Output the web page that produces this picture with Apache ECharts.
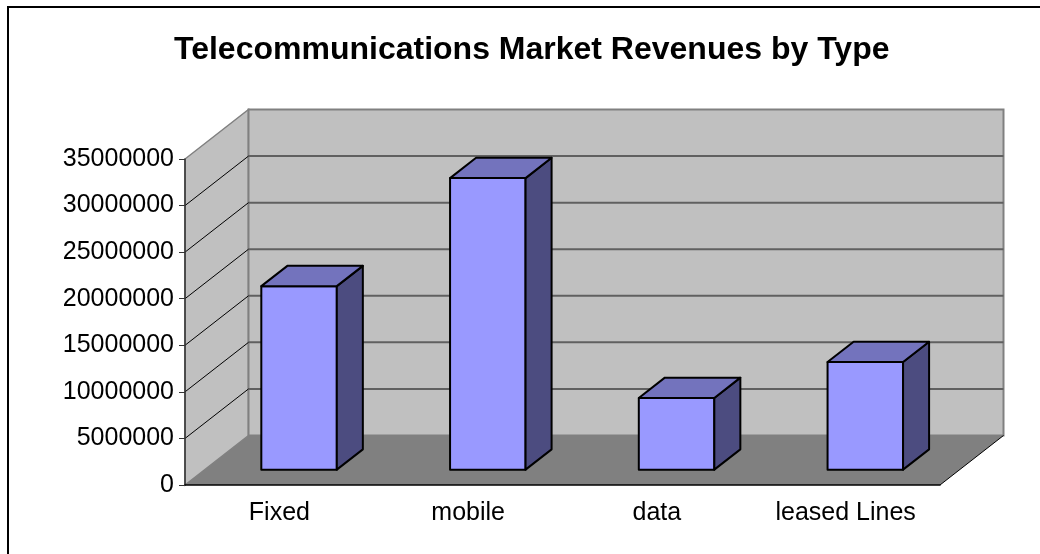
<!DOCTYPE html>
<html>
	<head>
		<meta charset="utf-8">
		<title>Telecommunications Market Revenues by Type</title>
		<script src="https://cdn.jsdelivr.net/npm/echarts@6/dist/echarts.min.js"></script>
		<style>
			html, body { margin: 0; padding: 0; background: #fff; }
			#main { width: 1040px; height: 554px; }
		</style>
	</head>
	<body>
		<div id="main"></div>
		<script>
			// chart data
			var categories = ['Fixed', 'mobile', 'data', 'leased Lines'];
			var revenues = [19700000, 31300000, 7700000, 11550000];
			var gridValues = [5000000, 10000000, 15000000, 20000000, 25000000, 30000000];

			// 3d look: depth of the plot box and where the bars sit inside it
			var DEPTH_X = 63.5;
			var DEPTH_Y = -49.5;
			var BAR_FRONT = 0.31;
			var BAR_BACK = 0.72;
			var BAR_WIDTH = 0.4;
			var FONT = '"Liberation Sans", Arial, sans-serif';

			var chart = echarts.init(document.getElementById('main'));

			function renderWalls(params, api) {
				var cs = params.coordSys;
				var x0 = cs.x, x1 = cs.x + cs.width, yTop = cs.y, yBot = cs.y + cs.height;
				var dx = DEPTH_X, dy = DEPTH_Y;
				var children = [
					{ // side wall
						type: 'polygon',
						shape: { points: [[x0, yBot], [x0, yTop], [x0 + dx, yTop + dy], [x0 + dx, yBot + dy]] },
						style: { fill: '#C0C0C0', stroke: '#808080', lineWidth: 1.5 }
					},
					{ // back wall
						type: 'polygon',
						shape: { points: [[x0 + dx, yTop + dy], [x1 + dx, yTop + dy], [x1 + dx, yBot + dy], [x0 + dx, yBot + dy]] },
						style: { fill: '#C0C0C0', stroke: '#808080', lineWidth: 2 }
					},
					{ // floor
						type: 'polygon',
						shape: { points: [[x0, yBot], [x1, yBot], [x1 + dx, yBot + dy], [x0 + dx, yBot + dy]] },
						style: { fill: '#808080' }
					},
					{
						type: 'line',
						shape: { x1: x1, y1: yBot, x2: x1 + dx, y2: yBot + dy },
						style: { stroke: '#000', lineWidth: 1 }
					}
				];
				gridValues.forEach(function (v) {
					var y = api.coord([0, v])[1];
					children.push({
						type: 'line',
						shape: { x1: x0 + dx, y1: y + dy, x2: x1 + dx, y2: y + dy },
						style: { stroke: '#606060', lineWidth: 2 }
					});
					children.push({
						type: 'line',
						shape: { x1: x0, y1: y, x2: x0 + dx, y2: y + dy },
						style: { stroke: '#000', lineWidth: 1 }
					});
				});
				return { type: 'group', children: children };
			}

			function renderBar(params, api) {
				var idx = api.value(0);
				var base = api.coord([idx, 0]);
				var top = api.coord([idx, api.value(1)]);
				var half = api.size([1, 0])[0] * BAR_WIDTH / 2;
				var fx = DEPTH_X * BAR_FRONT, fy = DEPTH_Y * BAR_FRONT;
				var ddx = DEPTH_X * (BAR_BACK - BAR_FRONT), ddy = DEPTH_Y * (BAR_BACK - BAR_FRONT);
				var L = base[0] - half + fx, R = base[0] + half + fx;
				var B = base[1] + fy, T = top[1] + fy;
				var line = { stroke: '#000', lineWidth: 2, lineJoin: 'round' };
				return {
					type: 'group',
					children: [
						{
							type: 'polygon',
							shape: { points: [[L, B], [R, B], [R, T], [L, T]] },
							style: Object.assign({ fill: '#9999FF' }, line)
						},
						{
							type: 'polygon',
							shape: { points: [[R, B], [R + ddx, B + ddy], [R + ddx, T + ddy], [R, T]] },
							style: Object.assign({ fill: '#4C4C80' }, line)
						},
						{
							type: 'polygon',
							shape: { points: [[L, T], [R, T], [R + ddx, T + ddy], [L + ddx, T + ddy]] },
							style: Object.assign({ fill: '#7373BD' }, line)
						}
					]
				};
			}

			var option = {
				animation: false,
				title: {
					text: 'Telecommunications Market Revenues by Type',
					left: 174,
					top: 34,
					padding: 0,
					textStyle: { fontFamily: FONT, fontSize: 32, fontWeight: 'bold', color: '#000' }
				},
				graphic: [{
					type: 'rect',
					shape: { x: 8, y: 7, width: 1100, height: 600 },
					style: { fill: 'none', stroke: '#000', lineWidth: 2 }
				}],
				grid: { left: 185, right: 100, top: 159, bottom: 69 },
				xAxis: {
					type: 'category',
					data: categories,
					z: 10,
					axisLine: { lineStyle: { color: '#000', width: 1.5 } },
					axisTick: { length: 6, lineStyle: { color: '#000' } },
					axisLabel: { margin: 16, fontFamily: FONT, fontSize: 25, color: '#000' }
				},
				yAxis: {
					type: 'value',
					min: 0,
					max: 35000000,
					interval: 5000000,
					z: 10,
					splitLine: { show: false },
					axisLine: { show: true, lineStyle: { color: '#333', width: 1.5 } },
					axisTick: { show: true, length: 6, lineStyle: { color: '#333' } },
					axisLabel: {
						margin: 11, fontFamily: FONT, fontSize: 25, color: '#000',
						formatter: function (v) { return String(v); }
					}
				},
				series: [
					{
						type: 'custom',
						z: 1,
						silent: true,
						renderItem: renderWalls,
						data: [[0, 0]]
					},
					{
						type: 'custom',
						z: 3,
						renderItem: renderBar,
						data: revenues.map(function (v, i) { return [i, v]; })
					}
				]
			};

			chart.setOption(option);
		</script>
	</body>
</html>
